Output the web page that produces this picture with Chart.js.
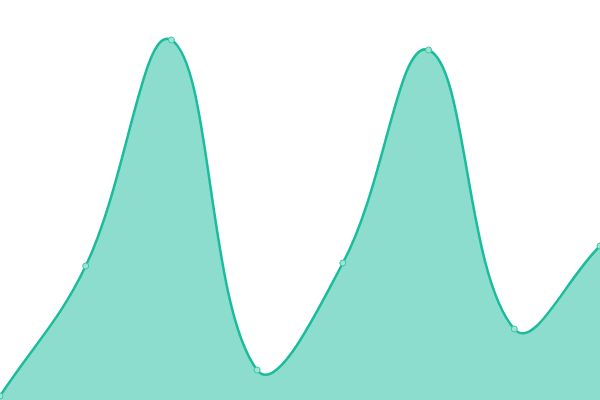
<!DOCTYPE html>
<html><head><meta charset="utf-8">
<script src="https://cdn.jsdelivr.net/npm/chart.js@4"></script>
<style>html,body{margin:0;padding:0;background:#fff;overflow:hidden;width:600px;height:400px}#wrap{position:absolute;left:-5px;top:-5px;width:610px;height:410px}</style>
</head><body><div id="wrap"><canvas id="c"></canvas></div>
<script>
const labels = ["1", "2", "3", "4", "5", "6", "7", "8"];
const values = [4, 134, 360, 30, 137, 350, 71, 154];
new Chart(document.getElementById('c'), {
  type: 'line',
  data: { labels: labels, datasets: [{
    data: values,
    borderColor: '#1abc9c',
    backgroundColor: 'rgba(26,188,156,0.5)',
    pointBackgroundColor: '#9fe3d5',
    pointBorderColor: '#3cc6a9',
    pointRadius: 3,
    pointBorderWidth: 1,
    borderWidth: 2.5,
    tension: 0.4,
    fill: 'origin'
  }]},
  options: {
    responsive: true, maintainAspectRatio: false, animation: false,
    layout: { padding: 0 },
    plugins: { legend: { display: false }, tooltip: { enabled: false } },
    scales: {
      x: { display: false },
      y: { display: false, min: 0, max: 400 }
    }
  }
});
</script></body></html>
